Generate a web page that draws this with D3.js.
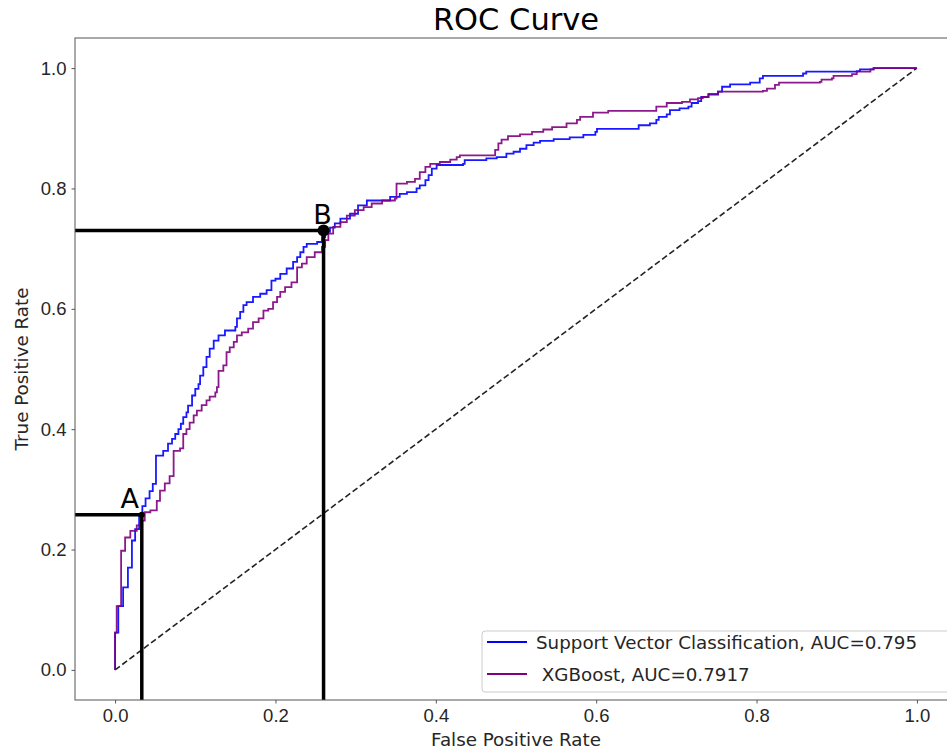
<!DOCTYPE html>
<html>
<head>
<meta charset="utf-8">
<script src="https://cdn.jsdelivr.net/npm/d3@7.9.0/dist/d3.min.js"></script>
<style>
  body { margin: 0; background: #fff; }
  svg { display: block; font-family: 'DejaVu Sans', sans-serif; }
  .tick text { font-size: 18.5px; fill: #262626; }
  .tick line { stroke: #555; }
</style>
</head>
<body>
<svg id="chart" width="947" height="751"></svg>
<script>
// ROC points for Support Vector Classification
const svcFpr = [0, 0, 0.004, 0.010, 0.016, 0.021, 0.025, 0.030, 0.034, 0.038, 0.043, 0.047, 0.051, 0.060, 0.066, 0.071, 0.075, 0.079, 0.082, 0.085, 0.089, 0.091, 0.096, 0.100, 0.104, 0.106, 0.110, 0.114, 0.118, 0.123, 0.129, 0.137, 0.150, 0.152, 0.156, 0.160, 0.164, 0.172, 0.181, 0.189, 0.195, 0.200, 0.206, 0.214, 0.222, 0.227, 0.231, 0.235, 0.239, 0.252, 0.258, 0.262, 0.268, 0.274, 0.281, 0.293, 0.303, 0.314, 0.343, 0.355, 0.364, 0.376, 0.380, 0.387, 0.391, 0.395, 0.401, 0.434, 0.436, 0.463, 0.476, 0.488, 0.497, 0.505, 0.513, 0.522, 0.530, 0.547, 0.567, 0.584, 0.599, 0.601, 0.653, 0.667, 0.675, 0.678, 0.688, 0.692, 0.704, 0.715, 0.719, 0.727, 0.731, 0.740, 0.752, 0.757, 0.767, 0.792, 0.804, 0.808, 0.858, 0.862, 0.925, 0.929, 0.946, 1];
const svcTpr = [0, 0.062, 0.106, 0.137, 0.170, 0.215, 0.234, 0.259, 0.272, 0.285, 0.297, 0.309, 0.356, 0.364, 0.376, 0.384, 0.392, 0.400, 0.409, 0.420, 0.428, 0.439, 0.456, 0.467, 0.475, 0.489, 0.503, 0.520, 0.534, 0.547, 0.556, 0.564, 0.570, 0.584, 0.595, 0.606, 0.611, 0.620, 0.625, 0.631, 0.647, 0.650, 0.658, 0.667, 0.678, 0.686, 0.694, 0.703, 0.708, 0.711, 0.719, 0.728, 0.735, 0.742, 0.750, 0.758, 0.772, 0.780, 0.786, 0.791, 0.794, 0.800, 0.805, 0.814, 0.822, 0.833, 0.839, 0.841, 0.847, 0.850, 0.852, 0.858, 0.861, 0.866, 0.872, 0.876, 0.879, 0.882, 0.885, 0.889, 0.894, 0.899, 0.905, 0.908, 0.914, 0.919, 0.923, 0.930, 0.933, 0.936, 0.942, 0.945, 0.952, 0.956, 0.961, 0.969, 0.973, 0.976, 0.983, 0.987, 0.991, 0.994, 0.995, 0.998, 1.0, 1];

// ROC points for XGBoost
const xgbFpr = [0, 0, 0.002, 0.0075, 0.0125, 0.019, 0.027, 0.033, 0.037, 0.044, 0.052, 0.056, 0.062, 0.068, 0.073, 0.081, 0.085, 0.089, 0.093, 0.098, 0.102, 0.108, 0.114, 0.118, 0.125, 0.127, 0.129, 0.135, 0.139, 0.143, 0.148, 0.152, 0.158, 0.166, 0.172, 0.179, 0.185, 0.191, 0.197, 0.202, 0.206, 0.212, 0.220, 0.227, 0.233, 0.239, 0.249, 0.258, 0.262, 0.266, 0.272, 0.281, 0.289, 0.299, 0.310, 0.320, 0.333, 0.349, 0.351, 0.364, 0.374, 0.380, 0.387, 0.393, 0.405, 0.418, 0.426, 0.430, 0.474, 0.478, 0.482, 0.490, 0.505, 0.520, 0.534, 0.545, 0.563, 0.576, 0.580, 0.596, 0.615, 0.675, 0.688, 0.707, 0.717, 0.727, 0.733, 0.740, 0.752, 0.808, 0.813, 0.823, 0.828, 0.879, 0.881, 0.894, 0.896, 0.919, 0.925, 0.942, 0.946, 1];
const xgbTpr = [0, 0.062, 0.106, 0.198, 0.220, 0.231, 0.240, 0.248, 0.262, 0.265, 0.281, 0.298, 0.310, 0.322, 0.364, 0.368, 0.392, 0.400, 0.411, 0.423, 0.431, 0.440, 0.448, 0.454, 0.461, 0.470, 0.497, 0.506, 0.528, 0.536, 0.545, 0.556, 0.561, 0.567, 0.578, 0.584, 0.597, 0.600, 0.611, 0.620, 0.628, 0.636, 0.644, 0.669, 0.675, 0.686, 0.694, 0.703, 0.714, 0.725, 0.736, 0.744, 0.755, 0.764, 0.769, 0.775, 0.780, 0.783, 0.808, 0.811, 0.816, 0.827, 0.836, 0.841, 0.844, 0.848, 0.852, 0.855, 0.864, 0.875, 0.881, 0.887, 0.890, 0.894, 0.898, 0.902, 0.908, 0.914, 0.919, 0.926, 0.929, 0.936, 0.942, 0.944, 0.948, 0.950, 0.952, 0.957, 0.961, 0.962, 0.966, 0.972, 0.976, 0.977, 0.981, 0.983, 0.987, 0.990, 0.994, 0.998, 1.0, 1];

const seriesNames = ['Support Vector Classification, AUC=0.795', ' XGBoost, AUC=0.7917'];
const seriesColors = ['blue', 'purple'];

// marked thresholds A and B
const markLabels = ['A', 'B'];
const markFpr = [0.0333, 0.26];
const markTpr = [0.258, 0.730];

const xTicks = [0, 0.2, 0.4, 0.6, 0.8, 1.0];
const yTicks = [0, 0.2, 0.4, 0.6, 0.8, 1.0];

const svg = d3.select('#chart');
const plotLeft = 75, plotRight = 957, plotTop = 38, plotBottom = 700;

const x = d3.scaleLinear().domain([-0.05, 1.05]).range([plotLeft, plotRight]);
const y = d3.scaleLinear().domain([-0.05, 1.05]).range([plotBottom, plotTop]);

// title
svg.append('text')
  .attr('x', (plotLeft + plotRight) / 2).attr('y', 30)
  .attr('text-anchor', 'middle')
  .style('font-size', '30.5px')
  .text('ROC Curve');

// diagonal reference
svg.append('line')
  .attr('x1', x(0)).attr('y1', y(0))
  .attr('x2', x(1)).attr('y2', y(1))
  .attr('stroke', '#222').attr('stroke-width', 1.6)
  .attr('stroke-dasharray', '6,3');

const line = d3.line()
  .x(d => x(d[0]))
  .y(d => y(d[1]))
  .curve(d3.curveStepAfter);

const curves = [
  d3.zip(svcFpr, svcTpr),
  d3.zip(xgbFpr, xgbTpr)
];
curves.forEach((pts, i) => {
  svg.append('path')
    .datum(pts)
    .attr('d', line)
    .attr('fill', 'none')
    .attr('stroke', seriesColors[i])
    .attr('stroke-width', 1.8)
    .attr('stroke-opacity', 0.9);
});

// threshold guides
markLabels.forEach((lab, i) => {
  const px = x(markFpr[i]), py = y(markTpr[i]);
  svg.append('line')
    .attr('x1', x(-0.05)).attr('y1', py).attr('x2', px).attr('y2', py)
    .attr('stroke', 'black').attr('stroke-width', 3.5);
  svg.append('line')
    .attr('x1', px).attr('y1', py).attr('x2', px).attr('y2', y(-0.05))
    .attr('stroke', 'black').attr('stroke-width', 3.5);
  svg.append('circle')
    .attr('cx', px).attr('cy', py)
    .attr('r', i === 0 ? 3 : 6)
    .attr('fill', 'black');
  svg.append('text')
    .attr('x', px - (i === 0 ? 12 : 1)).attr('y', py - 7)
    .attr('text-anchor', 'middle')
    .style('font-size', '27px')
    .text(lab);
});

// axes
svg.append('g')
  .attr('transform', `translate(0,${plotBottom})`)
  .call(d3.axisBottom(x).tickValues(xTicks).tickFormat(d3.format('.1f')).tickSize(3.5).tickPadding(5))
  .call(g => g.select('.domain').remove());
svg.append('g')
  .attr('transform', `translate(${plotLeft},0)`)
  .call(d3.axisLeft(y).tickValues(yTicks).tickFormat(d3.format('.1f')).tickSize(3.5).tickPadding(5))
  .call(g => g.select('.domain').remove());

// spines
svg.append('rect')
  .attr('x', plotLeft).attr('y', plotTop)
  .attr('width', plotRight - plotLeft).attr('height', plotBottom - plotTop)
  .attr('fill', 'none').attr('stroke', '#555').attr('stroke-width', 1);

svg.append('text')
  .attr('x', (plotLeft + plotRight) / 2).attr('y', 746)
  .attr('text-anchor', 'middle')
  .style('font-size', '18.3px').attr('fill', '#262626')
  .text('False Positive Rate');
svg.append('text')
  .attr('transform', `translate(28,${(plotTop + plotBottom) / 2}) rotate(-90)`)
  .attr('text-anchor', 'middle')
  .style('font-size', '18.3px').attr('fill', '#262626')
  .text('True Positive Rate');

// legend
const lg = svg.append('g').attr('transform', 'translate(482,631)');
lg.append('rect')
  .attr('width', 468).attr('height', 61).attr('rx', 3)
  .attr('fill', 'white').attr('fill-opacity', 0.8)
  .attr('stroke', '#ccc');
seriesNames.forEach((name, i) => {
  const ly = 11 + i * 32;
  lg.append('line')
    .attr('x1', 5).attr('x2', 45).attr('y1', ly).attr('y2', ly)
    .attr('stroke', seriesColors[i]).attr('stroke-width', 1.8);
  lg.append('text')
    .attr('x', 54).attr('y', ly + 6.5)
    .attr('xml:space', 'preserve')
    .style('white-space', 'pre')
    .style('font-size', '18.3px').attr('fill', '#262626')
    .text(name);
});
</script>
</body>
</html>
